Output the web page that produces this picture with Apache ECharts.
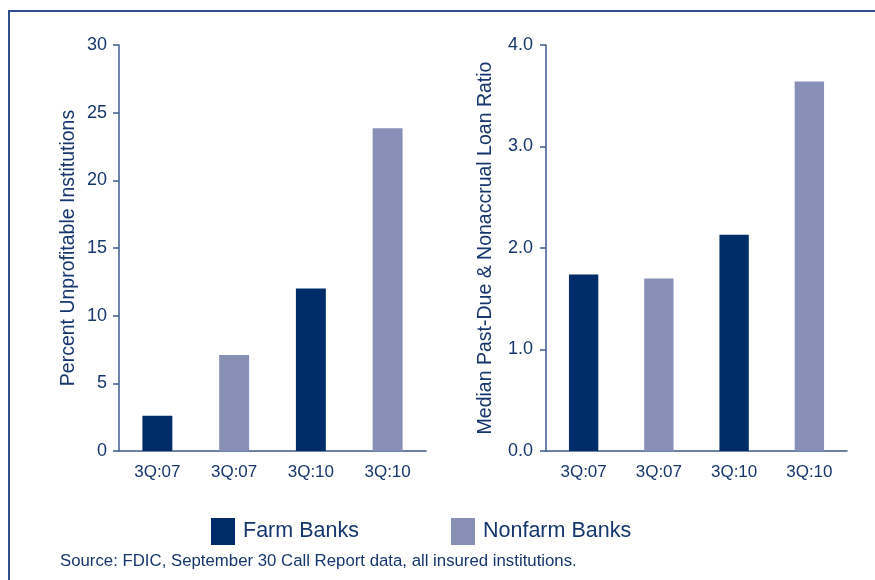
<!DOCTYPE html>
<html><head><meta charset="utf-8">
<script src="https://cdn.jsdelivr.net/npm/echarts@6/dist/echarts.min.js"></script>
<style>html,body{margin:0;padding:0;background:#fff}#c{width:875px;height:580px}</style>
</head><body><div id="c"></div>
<script>
const categories = ['3Q:07', '3Q:07', '3Q:10', '3Q:10'];
const farmUnprofitable = [2.6, null, 12.0, null];
const nonfarmUnprofitable = [null, 7.1, null, 23.85];
const farmPastDue = [1.74, null, 2.13, null];
const nonfarmPastDue = [null, 1.70, null, 3.64];
const leftTicks = [0, 5, 10, 15, 20, 25, 30];
const rightTicks = [0.0, 1.0, 2.0, 3.0, 4.0];

const NAVY = '#002d69', LIGHT = '#8890b8', AXIS = '#3e5a8c', TXT = '#16366e';
const font = '"Liberation Sans", Arial, sans-serif';
const chart = echarts.init(document.getElementById('c'));

function xAx(gi) {
  return {
    type: 'category', gridIndex: gi, data: categories,
    axisLine: {lineStyle: {color: AXIS, width: 1.5}},
    axisTick: {length: 8, lineStyle: {color: AXIS, width: 1.5}},
    axisLabel: {color: TXT, fontFamily: font, fontSize: 17, margin: 13}
  };
}
function yAx(gi, max, interval, name, fmt) {
  return {
    type: 'value', gridIndex: gi, min: 0, max: max, interval: interval,
    name: name, nameLocation: 'middle', nameGap: gi === 0 ? 40 : 50, nameRotate: 90,
    nameTextStyle: {color: TXT, fontFamily: font, fontSize: 19.5},
    axisLine: {show: true, lineStyle: {color: AXIS, width: 1.5}},
    axisTick: {show: true, length: 6, lineStyle: {color: AXIS, width: 1.5}},
    axisLabel: {color: TXT, fontFamily: font, fontSize: 18, margin: gi === 0 ? 12 : 13, formatter: fmt},
    splitLine: {show: false}
  };
}
function bar(name, data, xi, color, stack) {
  return {type: 'bar', name: name, data: data, xAxisIndex: xi, yAxisIndex: xi,
    stack: stack, barWidth: '39%', itemStyle: {color: color}, silent: true};
}

chart.setOption({
  animation: false,
  grid: [
    {left: 119, right: 449, top: 45, bottom: 129},
    {left: 546, right: 28, top: 45, bottom: 129}
  ],
  xAxis: [xAx(0), xAx(1)],
  yAxis: [
    yAx(0, leftTicks[leftTicks.length - 1], 5, 'Percent Unprofitable Institutions', v => String(v)),
    yAx(1, rightTicks[rightTicks.length - 1], 1, 'Median Past-Due & Nonaccrual Loan Ratio', v => v.toFixed(1))
  ],
  legend: [
    {data: ['Farm Banks'], left: 206, top: 513, itemWidth: 24, itemHeight: 27, icon: 'rect',
     textStyle: {color: TXT, fontSize: 21.5, fontFamily: font, padding: [0, 0, 0, 3]}},
    {data: ['Nonfarm Banks'], left: 446, top: 513, itemWidth: 24, itemHeight: 27, icon: 'rect',
     textStyle: {color: TXT, fontSize: 21.5, fontFamily: font, padding: [0, 0, 0, 3]}}
  ],
  series: [
    bar('Farm Banks', farmUnprofitable, 0, NAVY, 'a'),
    bar('Nonfarm Banks', nonfarmUnprofitable, 0, LIGHT, 'a'),
    bar('Farm Banks', farmPastDue, 1, NAVY, 'b'),
    bar('Nonfarm Banks', nonfarmPastDue, 1, LIGHT, 'b')
  ],
  graphic: [
    {type: 'polyline', shape: {points: [[9, 580], [9, 11], [875, 11]]},
     style: {stroke: '#2d4f8a', lineWidth: 2, fill: null}},
    {type: 'text', left: 60, top: 553,
     style: {text: 'Source: FDIC, September 30 Call Report data, all insured institutions.',
       fill: TXT, fontSize: 16.8, fontFamily: font}}
  ]
});
</script></body></html>
